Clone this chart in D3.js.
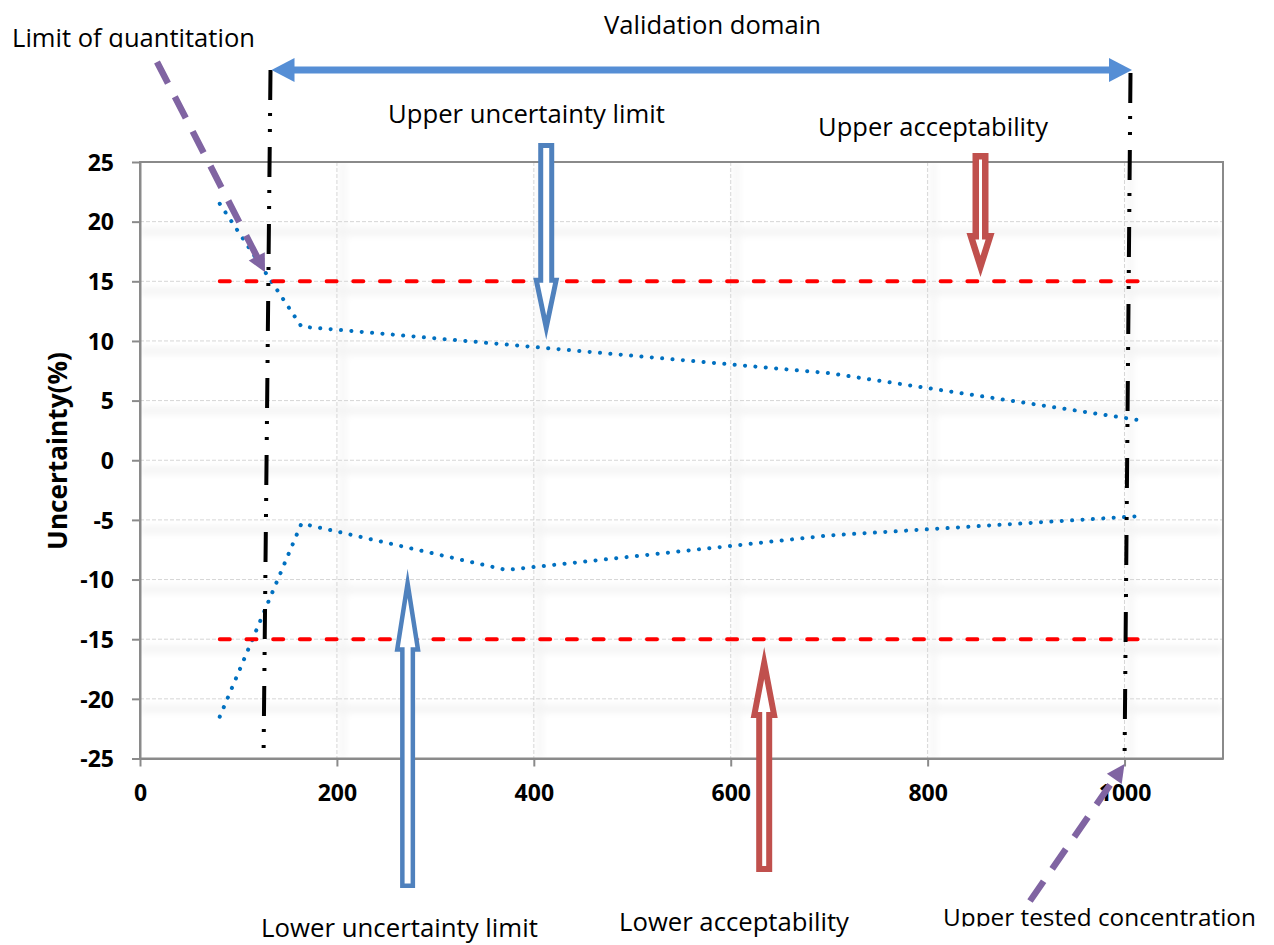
<!DOCTYPE html>
<html><head><meta charset="utf-8">
<script src="https://cdn.jsdelivr.net/npm/d3@7"></script>
<style>body{margin:0;background:#fff} svg{display:block}</style>
</head><body><svg id="chart" width="1274" height="945"></svg>
<script>
// ---------------- data ----------------
const concentration = [81, 164, 372, 700, 1012];
const upperUncertainty = [21.5, 11.2, 9.7, 7.3, 3.4];
const lowerUncertainty = [-21.5, -5.3, -9.2, -6.3, -4.7];
const acceptabilityRange = [79, 1020];
const acceptabilityLimits = [15, -15];
const limitOfQuantitation = 129;
const upperTestedConcentration = 1003;
const xTicks = [0, 200, 400, 600, 800, 1000];
const yTicks = [-25, -20, -15, -10, -5, 0, 5, 10, 15, 20, 25];
const yTitle = "Uncertainty(%)";
const labelValidation = "Validation domain";
const labelLoq = "Limit of quantitation";
const labelUpperUnc = "Upper uncertainty limit";
const labelUpperAcc = "Upper acceptability";
const labelLowerUnc = "Lower uncertainty limit";
const labelLowerAcc = "Lower acceptability";
const labelUpperTested = "Upper tested concentration";
// arrow anchors (data units)
const upperUncArrowTip = [412.6, 10.1];
const lowerUncArrowTip = [271.8, -9.1];
const upperAccArrowTip = [853.7, 15.35];
const lowerAccArrowTip = [634, -15.65];

// ---------------- layout ----------------
const W = 1274, H = 945;
const plot = {left: 140, right: 1223, top: 162, bottom: 758.5};
const svg = d3.select("#chart");
const x = d3.scaleLinear().domain([0, 1100]).range([plot.left, plot.right]);
const y = d3.scaleLinear().domain([-25, 25]).range([plot.bottom, plot.top]);

svg.append("rect").attr("width", W).attr("height", H).attr("fill", "#fff");
const defs = svg.append("defs");
defs.append("filter").attr("id", "soft").attr("filterUnits", "userSpaceOnUse")
  .attr("x", 0).attr("y", 0).attr("width", W).attr("height", H)
  .append("feGaussianBlur").attr("stdDeviation", 3.5);
defs.append("clipPath").attr("id", "plotclip").append("rect")
  .attr("x", plot.left).attr("y", plot.top).attr("width", plot.right - plot.left).attr("height", plot.bottom - plot.top);
defs.append("clipPath").attr("id", "clipTop").append("rect").attr("x", 0).attr("y", 0).attr("width", W).attr("height", 47.5);
defs.append("clipPath").attr("id", "clipBottom").append("rect").attr("x", 0).attr("y", 0).attr("width", W).attr("height", 926.5);

// grid shadows
const shadowG = svg.append("g").attr("clip-path", "url(#plotclip)").append("g")
  .attr("filter", "url(#soft)").attr("opacity", 0.045);
yTicks.filter(v => v > -25 && v < 25).forEach(v => {
  shadowG.append("line").attr("x1", plot.left).attr("x2", plot.right)
    .attr("y1", y(v) + 10).attr("y2", y(v) + 10).attr("stroke", "#000").attr("stroke-width", 8);
});
xTicks.filter(v => v > 0).forEach(v => {
  shadowG.append("line").attr("x1", x(v) + 6).attr("x2", x(v) + 6)
    .attr("y1", plot.top).attr("y2", plot.bottom).attr("stroke", "#000").attr("stroke-width", 5);
});

// gridlines
const grid = svg.append("g");
yTicks.filter(v => v > -25 && v < 25).forEach(v => {
  grid.append("line").attr("x1", plot.left).attr("x2", plot.right).attr("y1", y(v)).attr("y2", y(v))
    .attr("stroke", "#d6d6d6").attr("stroke-width", 1).attr("stroke-dasharray", "4,2");
});
xTicks.filter(v => v > 0).forEach(v => {
  grid.append("line").attr("x1", x(v)).attr("x2", x(v)).attr("y1", plot.top).attr("y2", plot.bottom)
    .attr("stroke", "#d6d6d6").attr("stroke-width", 1).attr("stroke-dasharray", "4,2");
});

// frame
svg.append("rect").attr("x", plot.left).attr("y", plot.top)
  .attr("width", plot.right - plot.left).attr("height", plot.bottom - plot.top)
  .attr("fill", "none").attr("stroke", "#8a8a8a").attr("stroke-width", 2);

// axes
const axisFont = "'Open Sans', 'DejaVu Sans', sans-serif";
const plainFormat = d => String(d);
const yAxis = svg.append("g").attr("transform", `translate(${plot.left},0)`)
  .call(d3.axisLeft(y).tickValues(yTicks).tickSize(8).tickSizeOuter(0).tickPadding(18).tickFormat(plainFormat));
const xAxis = svg.append("g").attr("transform", `translate(0,${plot.bottom})`)
  .call(d3.axisBottom(x).tickValues(xTicks).tickSize(8).tickSizeOuter(0).tickFormat(plainFormat));
[yAxis, xAxis].forEach(a => {
  a.select(".domain").attr("stroke", "#8a8a8a").attr("stroke-width", 2);
  a.selectAll(".tick line").attr("stroke", "#8a8a8a").attr("stroke-width", 2);
  a.selectAll(".tick text").attr("font-family", axisFont).attr("font-weight", "bold")
    .attr("font-size", 23).attr("fill", "#000");
});
xAxis.selectAll(".tick text").attr("dy", null).attr("y", 801 - plot.bottom);
yAxis.selectAll(".tick text").attr("dy", "0.36em");

function fit(sel, target) {
  const w = sel.node().getComputedTextLength();
  sel.attr("font-size", parseFloat(sel.attr("font-size")) * target / w);
  return sel;
}

// y title
const yt = svg.append("text").attr("transform", `translate(67,451) rotate(-90)`)
  .attr("text-anchor", "middle").attr("font-family", axisFont).attr("font-weight", "bold")
  .attr("font-size", 26).attr("fill", "#000").text(yTitle);
fit(yt, 198);

// series
const line = d3.line().x((d, i) => x(concentration[i])).y(d => y(d));
[upperUncertainty, lowerUncertainty].forEach(series => {
  svg.append("path").attr("d", line(series)).attr("fill", "none")
    .attr("stroke", "#0070C0").attr("stroke-width", 4).attr("stroke-linecap", "round")
    .attr("stroke-dasharray", "0.1,10.3");
});

// acceptability limits
acceptabilityLimits.forEach(v => {
  svg.append("line").attr("x1", x(acceptabilityRange[0]) + 2).attr("x2", x(acceptabilityRange[1]) - 2)
    .attr("y1", y(v)).attr("y2", y(v)).attr("stroke", "#ff0000").attr("stroke-width", 4)
    .attr("stroke-linecap", "round").attr("stroke-dasharray", "10,16.7");
});

// vertical dash-dot-dot markers
[[limitOfQuantitation, 70, 760, 3.5], [upperTestedConcentration, 73, 766, 3]].forEach(([v, y1, y2, sk]) => {
  svg.append("line").attr("x1", x(v) + sk).attr("x2", x(v) - sk).attr("y1", y1).attr("y2", y2)
    .attr("stroke", "#000").attr("stroke-width", 4).attr("stroke-dasharray", "30,13,3,13,3,15");
});

// validation domain double arrow
{
  const x1 = x(limitOfQuantitation) + 4.5, x2 = x(upperTestedConcentration) + 4.5, yy = 70, hl = 23, hw = 12;
  const c = "#558ED5";
  svg.append("line").attr("x1", x1 + hl - 2).attr("x2", x2 - hl + 2).attr("y1", yy).attr("y2", yy)
    .attr("stroke", c).attr("stroke-width", 7);
  svg.append("polygon").attr("points", [[x1, yy], [x1 + hl, yy - hw], [x1 + hl, yy + hw]].join(" ")).attr("fill", c);
  svg.append("polygon").attr("points", [[x2, yy], [x2 - hl, yy - hw], [x2 - hl, yy + hw]].join(" ")).attr("fill", c);
}

// purple dashed pointer arrows
function pointer(start, tip) {
  const c = "#8064A2", hl = 18, hw = 9;
  const dx = tip[0] - start[0], dy = tip[1] - start[1], L = Math.hypot(dx, dy);
  const ux = dx / L, uy = dy / L, px = -uy, py = ux;
  const bx = tip[0] - ux * hl, by = tip[1] - uy * hl;
  svg.append("line").attr("x1", start[0]).attr("y1", start[1]).attr("x2", bx + ux * 2).attr("y2", by + uy * 2)
    .attr("stroke", c).attr("stroke-width", 6.5).attr("stroke-dasharray", "24,15");
  svg.append("polygon").attr("points", [[tip[0], tip[1]], [bx + px * hw, by + py * hw], [bx - px * hw, by - py * hw]].join(" "))
    .attr("fill", c);
}
pointer([157, 62], [x(limitOfQuantitation) - 2, y(15) - 9]);
pointer([1030, 901], [x(upperTestedConcentration) - 3, y(-25) + 5.5]);

// hollow block arrows
function blockArrow(tipData, tailY, s, h, hl, t, color) {
  const tx = x(tipData[0]), ty = y(tipData[1]);
  const d = tailY > ty ? 1 : -1;
  const base = ty + d * hl;
  const outer = [[tx - s, tailY], [tx - s, base], [tx - h, base], [tx, ty], [tx + h, base], [tx + s, base], [tx + s, tailY]];
  const alpha = Math.atan(h / hl);
  const tipIn = ty + d * (t / Math.sin(alpha));
  const baseIn = base - d * t;
  const hIn = h * (hl - t) / hl - t / Math.cos(alpha);
  const si = s - t;
  const inner = [[tx - si, tailY - d * t], [tx - si, baseIn], [tx - hIn, baseIn], [tx, tipIn], [tx + hIn, baseIn], [tx + si, baseIn], [tx + si, tailY - d * t]];
  svg.append("polygon").attr("points", outer.join(" ")).attr("fill", color);
  svg.append("polygon").attr("points", inner.join(" ")).attr("fill", "#fff");
}
blockArrow(upperUncArrowTip, 143, 8, 13, 62, 5, "#4F81BD");
blockArrow(lowerUncArrowTip, 888, 7.5, 13, 83, 4.5, "#4F81BD");
blockArrow(upperAccArrowTip, 153, 8, 14, 44, 6.5, "#C0504D");
blockArrow(lowerAccArrowTip, 872, 8, 13.5, 71, 6, "#C0504D");

// annotation texts
const textFont = "'Open Sans', 'DejaVu Sans', sans-serif";
function label(txt, cx, baseline, width, clip) {
  const t = svg.append("text").attr("x", cx).attr("y", baseline).attr("text-anchor", "middle")
    .attr("font-family", textFont).attr("font-size", 25).attr("fill", "#000").text(txt);
  if (clip) t.attr("clip-path", `url(#${clip})`);
  fit(t, width);
}
label(labelValidation, 712.5, 34, 217);
label(labelLoq, 133.5, 46.5, 243, "clipTop");
label(labelUpperUnc, 526.5, 122.5, 277);
label(labelUpperAcc, 933, 136, 230);
label(labelLowerUnc, 399.5, 937, 277);
label(labelLowerAcc, 734, 931, 230);
label(labelUpperTested, 1099.5, 926, 313, "clipBottom");
</script></body></html>
